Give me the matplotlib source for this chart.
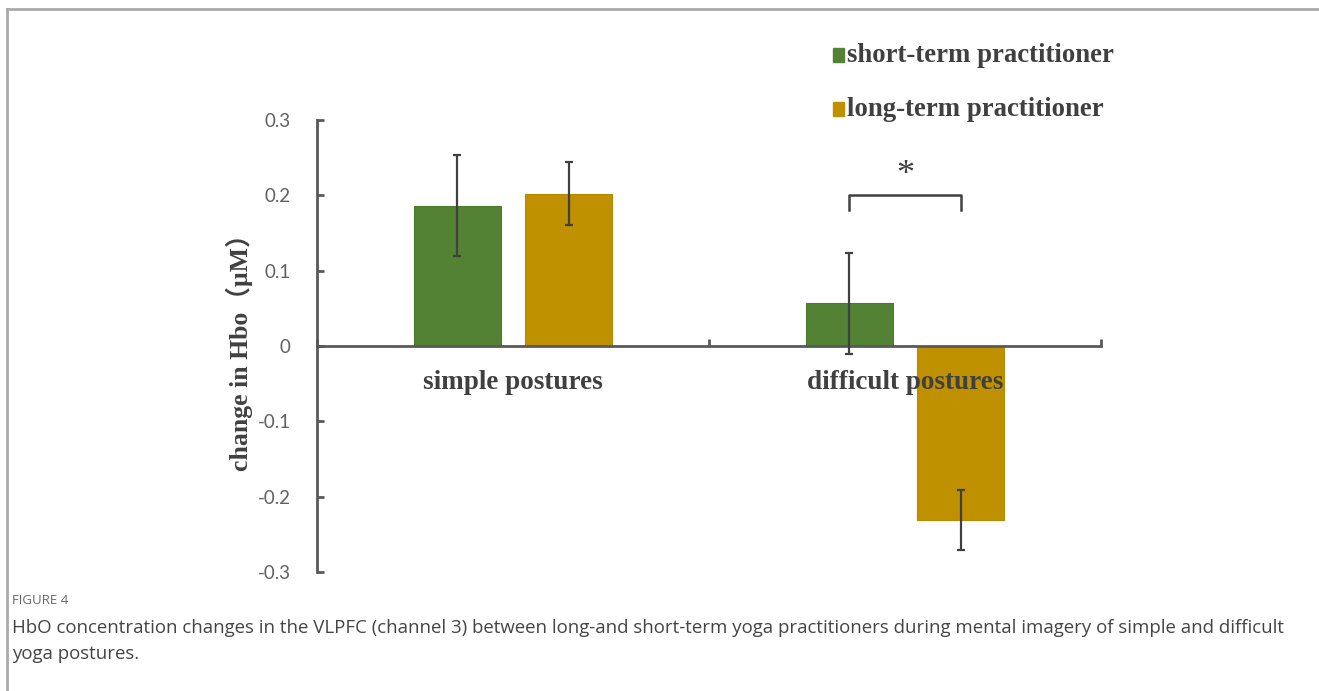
import matplotlib
matplotlib.use("Agg")
import matplotlib.pyplot as plt
import numpy as np

categories = ["simple postures", "difficult postures"]
series_names = ["short-term practitioner", "long-term practitioner"]
short_term = [0.186, 0.057]
short_err = [0.067, 0.067]
long_term = [0.202, -0.231]
long_err = [0.042, 0.040]
yticks = [0.3, 0.2, 0.1, 0, -0.1, -0.2, -0.3]
ytick_labels = ["0.3", "0.2", "0.1", "0", "-0.1", "-0.2", "-0.3"]

green = "#548235"
gold = "#BF9000"
axcol = "#595959"
errcol = "#404040"

W, H = 1319, 691
fig = plt.figure(figsize=(W/100, H/100), dpi=100)

def fx(px):
    return px / W

def fy(py):
    return 1 - py / H

ax = fig.add_axes([fx(317), fy(572), fx(1101) - fx(317), fy(120) - fy(572)])
ax.set_xlim(0, 2)
ax.set_ylim(-0.3, 0.3)

centers = np.arange(len(categories)) + 0.5
off = 0.142
bw = 0.222
ax.bar(centers - off, short_term, bw, color=green, edgecolor="#4a7a2e", linewidth=0.8, zorder=2)
ax.bar(centers + off, long_term, bw, color=gold, edgecolor="#b58a00", linewidth=0.8, zorder=2)
ax.errorbar(centers - off, short_term, yerr=short_err, fmt="none", ecolor=errcol,
            elinewidth=1.6, capsize=3.2, capthick=1.6, zorder=3)
ax.errorbar(centers + off, long_term, yerr=long_err, fmt="none", ecolor=errcol,
            elinewidth=1.6, capsize=3.2, capthick=1.6, zorder=3)

for s in ["top", "right"]:
    ax.spines[s].set_visible(False)
ax.spines["bottom"].set_position(("data", 0))
ax.spines["left"].set_color(axcol)
ax.spines["bottom"].set_color(axcol)
ax.spines["left"].set_linewidth(2)
ax.spines["bottom"].set_linewidth(2)
ax.spines["left"].set_zorder(4)

ax.set_yticks(yticks)
ax.set_yticklabels(ytick_labels, fontfamily="Lato", fontsize=13.5, color="#606060")
ax.tick_params(axis="y", direction="in", length=5, width=2, color=axcol, pad=19)
ax.set_xticks([0, 1, 2])
ax.set_xticklabels([])
ax.tick_params(axis="x", direction="in", length=5, width=2, color=axcol)

serif = ["Liberation Serif", "Noto Sans CJK SC"]
for c, name in zip(centers, categories):
    ax.text(c, -0.048, name, ha="center", va="center", fontsize=19.5, fontweight="bold",
            family=serif, color="#404040", zorder=6)

# significance bracket
x1, x2 = centers[1] - off, centers[1] + off
ax.plot([x1, x1, x2, x2], [0.18, 0.2, 0.2, 0.18], color=errcol, lw=1.8, zorder=3)
ax.text(centers[1], 0.226, "*", ha="center", va="center", fontsize=26,
        family=serif, color="#404040")

fig.text(fx(239), fy(346), "change in Hbo（μM）", rotation=90, ha="center", va="center",
         family=serif, fontsize=18.5, fontweight="bold", color="#404040")

# legend
for py, name, col in [(55, series_names[0], green), (109, series_names[1], gold)]:
    fig.patches.append(plt.Rectangle((fx(833), fy(py + 7)), fx(11), fy(py - 7) - fy(py + 7),
                                     transform=fig.transFigure, color=col, figure=fig))
    fig.text(fx(847), fy(py), name, ha="left", va="center", fontsize=19.3, fontweight="bold",
             family=serif, color="#404040")

# frame lines
fig.add_artist(plt.Line2D([fx(6.5), 1], [fy(8.5), fy(8.5)], transform=fig.transFigure,
                          color="#aaaaaa", lw=2))
fig.add_artist(plt.Line2D([fx(6.5), fx(6.5)], [fy(8.5), 0], transform=fig.transFigure,
                          color="#aaaaaa", lw=2))

# caption
fig.text(fx(12), fy(601), "FIGURE 4", ha="left", va="center", fontsize=9.5,
         family="Open Sans", color="#666666")
fig.text(fx(12), fy(628), "HbO concentration changes in the VLPFC (channel 3) between long-and short-term yoga practitioners during mental imagery of simple and difficult",
         ha="left", va="center", fontsize=13.45, family="Open Sans", color="#444444")
fig.text(fx(12), fy(654), "yoga postures.", ha="left", va="center", fontsize=13.45,
         family="Open Sans", color="#444444")

fig.savefig("out.png", dpi=100)
